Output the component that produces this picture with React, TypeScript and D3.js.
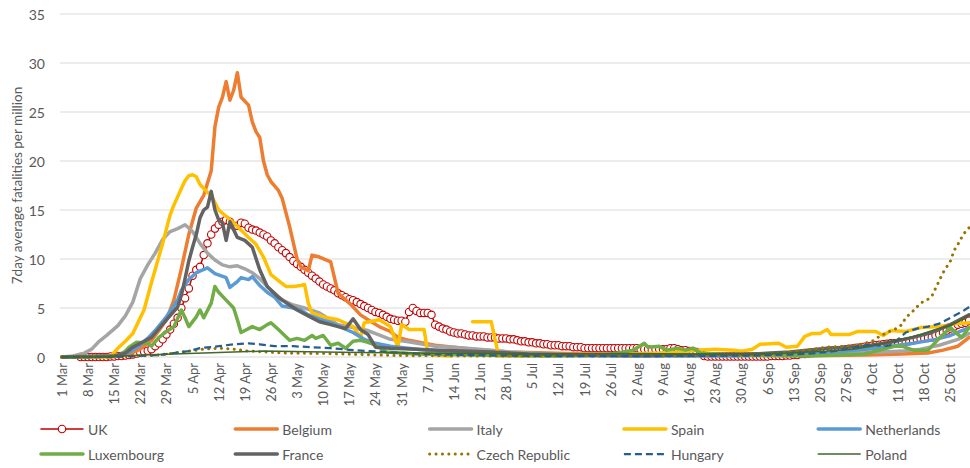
import { useMemo } from 'react'
import * as d3 from 'd3'

// 7-day average fatalities per million, by country, 1 Mar - 30 Oct 2020.
// Points are [days since 1 Mar, value]; null marks a gap in the series.
type Pt = [number, number | null]

const START = Date.UTC(2020, 2, 1)
const LAST_DAY = 243

// UK is daily (it carries a marker on every day), starting 5 Mar
const ukFirstDay = 5
const ukDaily = [
  0, 0, 0, 0, 0, 0, 0, 0, 0.05, 0.05,
  0.1, 0.1, 0.15, 0.2, 0.25, 0.35, 0.45, 0.55, 0.65, 0.8,
  1.1, 1.4, 1.8, 2.3, 2.8, 3.4, 4.0, 5.0, 6.0, 7.0,
  8.3, 8.9, 9.2, 10.4, 11.6, 12.5, 13.1, 13.5, 13.8, 14.0,
  13.8, 13.4, 13.4, 13.7, 13.6, 13.2, 13.0, 12.9, 12.7, 12.5,
  12.3, 11.9, 11.6, 11.2, 10.9, 10.6, 10.2, 9.8, 9.5, 9.2,
  8.9, 8.6, 8.3, 8.0, 7.7, 7.4, 7.2, 7.0, 6.8, 6.5,
  6.3, 6.1, 5.9, 5.8, 5.6, 5.4, 5.2, 5.0, 4.8, 4.6,
  4.5, 4.3, 4.1, 3.9, 3.8, 3.7, 3.7, 3.6, 4.6, 5.0,
  4.7, 4.5, 4.5, 4.5, 4.3, 3.3, 3.1, 2.9, 2.8, 2.6,
  2.5, 2.4, 2.4, 2.3, 2.2, 2.2, 2.1, 2.1, 2.1, 2.0,
  2.0, 2.0, 1.9, 1.9, 1.9, 1.8, 1.8, 1.7, 1.6, 1.6,
  1.5, 1.5, 1.4, 1.4, 1.3, 1.3, 1.2, 1.2, 1.2, 1.1,
  1.1, 1.1, 1.0, 1.0, 1.0, 0.9, 0.9, 0.9, 0.9, 0.9,
  0.9, 0.9, 0.9, 0.9, 0.9, 0.9, 0.9, 0.9, 0.9, 0.9,
  0.8, 0.8, 0.8, 0.7, 0.8, 0.8, 0.8, 0.8, 0.9, 0.9,
  0.8, 0.7, 0.7, 0.6, 0.6, 0.5, 0.4, 0.1, 0.05, 0.05,
  0.05, 0.05, 0.05, 0.05, 0.05, 0.05, 0.05, 0.05, 0.05, 0.05,
  0.05, 0.05, 0.05, 0.05, 0.05, 0.1, 0.1, 0.1, 0.1, 0.15,
  0.15, 0.2, 0.2, 0.3, 0.3, 0.35, 0.4, 0.45, 0.5, 0.55,
  0.6, 0.65, 0.7, 0.7, 0.75, 0.8, 0.85, 0.9, 0.95, 1.0,
  1.05, 1.1, 1.15, 1.2, 1.25, 1.3, 1.35, 1.4, 1.4, 1.45,
  1.5, 1.55, 1.6, 1.7, 1.8, 1.85, 1.9, 1.95, 2.0, 2.2,
  2.3, 2.5, 2.7, 2.9, 3.1, 3.3, 3.4, 3.5, 3.7,
]

const belgium: Pt[] = [
  [0, 0], [14, 0.05], [18, 0.3], [21, 0.8], [24, 1.7], [26, 2.7], [28, 3.8], [30, 5.8],
  [32, 9], [34, 12.5], [36, 15.2], [38, 16.5], [40, 19], [41, 23.5], [42, 25.5], [43, 26.5],
  [44, 28.1], [45, 26.2], [46, 27.2], [47, 29], [48, 26.5], [50, 25.7], [51, 24], [52, 23],
  [53, 22.4], [54, 20], [55, 18.6], [56, 17.9], [58, 17], [59, 16.2], [61, 13.3], [63, 10],
  [64, 9.2], [66, 8.8], [67, 10.4], [69, 10.2], [72, 9.7], [74, 6.5], [77, 5.5], [80, 4.3],
  [82, 3.8], [85, 3.1], [88, 2.6], [90, 2.0], [93, 1.7], [97, 1.4], [100, 1.2], [105, 1.0],
  [110, 0.8], [120, 0.5], [130, 0.4], [140, 0.3], [160, 0.3], [175, 0.2], [190, 0.15],
  [205, 0.15], [215, 0.2], [225, 0.3], [232, 0.4], [236, 0.7], [240, 1.1], [243, 2.0],
]

const italy: Pt[] = [
  [0, 0], [3, 0.1], [6, 0.4], [8, 0.8], [10, 1.6], [12, 2.2], [15, 3.2], [17, 4.2], [19, 5.6],
  [21, 8], [23, 9.4], [25, 10.6], [27, 12], [29, 12.8], [31, 13.1], [33, 13.5], [35, 12.8],
  [37, 11.6], [39, 10.6], [41, 9.9], [43, 9.4], [45, 9.2], [47, 9.3], [49, 9], [51, 8.6],
  [53, 8], [55, 7.2], [57, 6.5], [59, 5.8], [62, 5.3], [65, 5], [69, 4.5], [74, 3.3], [78, 3.0],
  [82, 2.7], [88, 1.8], [92, 1.6], [100, 1.1], [105, 1.0], [115, 0.7], [120, 0.5], [130, 0.3],
  [140, 0.2], [150, 0.2], [170, 0.15], [190, 0.2], [200, 0.3], [210, 0.4], [220, 0.5],
  [225, 0.6], [230, 0.8], [235, 1.2], [240, 1.8], [243, 2.4],
]

const spain: Pt[] = [
  [0, 0], [13, 0], [15, 0.9], [17, 1.6], [19, 2.4], [22, 4.8], [24, 7.6], [27, 11.6], [29, 14.5],
  [30, 15.5], [32, 17.2], [33, 18], [34, 18.5], [35, 18.6], [36, 18.4], [37, 17.6], [39, 16.8],
  [40, 16.5], [42, 15], [46, 13.7], [50, 12.2], [52, 11.5], [54, 10.2], [56, 8.4], [58, 7.8],
  [60, 7.2], [62, 7.2], [64, 7.3], [65, 7.4], [66, 5.5], [67, 4.5], [71, 4.0], [74, 3.8],
  [78, 3.1], [80, 2.0], [81, 3.5], [85, 3.8], [88, 3.1], [90, 1.0], [91, 3.3], [93, 2.8],
  [97, 2.8], [98, 0.5], [100, 0.2], [104, 0.1], [105, null], [110, 3.6], [115, 3.6], [117, 0.1],
  [125, 0.1], [140, 0.2], [150, 0.3], [160, 0.4], [165, 0.5], [170, 0.7], [175, 0.8], [180, 0.7],
  [182, 0.6], [185, 0.8], [187, 1.3], [192, 1.4], [194, 1.0], [197, 1.1], [199, 2.1], [201, 2.4],
  [203, 2.4], [205, 2.8], [206, 2.3], [211, 2.3], [213, 2.6], [218, 2.6], [220, 2.2], [222, 2.7],
  [226, 2.6], [230, 3.0], [235, 3.1], [239, 3.4], [243, 3.5],
]

const netherlands: Pt[] = [
  [0, 0], [14, 0.1], [17, 0.3], [19, 0.7], [21, 1.2], [23, 1.9], [25, 2.7], [28, 4.1], [31, 5.8],
  [32, 6.8], [34, 7.9], [36, 8.6], [39, 9.1], [41, 8.5], [44, 8.1], [45, 7.1], [47, 7.7], [48, 8.1],
  [50, 7.9], [51, 8.2], [53, 7.3], [55, 6.6], [57, 6.1], [59, 5.2], [62, 5.0], [64, 4.8], [66, 4.3],
  [69, 3.9], [72, 3.5], [75, 3.0], [78, 2.5], [81, 1.8], [84, 1.4], [88, 1.1], [95, 0.8], [100, 0.6],
  [110, 0.4], [125, 0.2], [150, 0.1], [180, 0.1], [200, 0.3], [210, 0.6], [220, 1.0], [228, 1.4],
  [234, 1.8], [238, 2.2], [243, 3.0],
]

const luxembourg: Pt[] = [
  [0, 0], [15, 0.1], [17, 0.6], [18, 1.0], [20, 1.5], [23, 1.4], [24, 1.1], [26, 2.0], [28, 2.6],
  [30, 3.1], [32, 4.8], [33, 4.0], [34, 3.1], [36, 4.1], [37, 4.8], [38, 4.0], [40, 5.5], [41, 7.2],
  [42, 6.6], [44, 5.8], [46, 5.0], [47, 3.8], [48, 2.5], [51, 3.1], [53, 2.8], [55, 3.3], [56, 3.5],
  [58, 2.8], [61, 1.7], [63, 1.9], [65, 1.7], [67, 2.2], [68, 1.9], [70, 2.2], [72, 1.2], [74, 1.4],
  [76, 0.9], [78, 1.6], [80, 1.7], [82, 1.5], [84, 1.2], [87, 0.5], [95, 0.3], [110, 0.2],
  [130, 0.1], [145, 0.2], [149, 0.4], [153, 0.7], [156, 1.4], [157, 1.0], [160, 1.1], [162, 0.7],
  [165, 0.9], [167, 0.7], [169, 0.9], [171, 0.4], [180, 0.2], [200, 0.1], [215, 0.3], [219, 0.7],
  [223, 1.1], [225, 1.1], [228, 0.7], [232, 0.7], [235, 1.9], [238, 3.0], [240, 2.3], [241, 2.0],
  [243, 3.0],
]

const france: Pt[] = [
  [0, 0], [14, 0.1], [17, 0.4], [19, 1.0], [21, 1.4], [24, 2.0], [28, 3.8], [31, 5.1], [32, 6.3],
  [33, 8.0], [34, 9.8], [35, 11.2], [36, 12.5], [37, 14.2], [38, 15], [39, 15.3], [40, 16.9],
  [41, 15], [42, 14], [43, 13.7], [44, 11.9], [45, 13.8], [47, 12.2], [49, 11.9], [51, 11.2],
  [53, 8.9], [55, 7.2], [58, 6.1], [61, 5.3], [63, 4.8], [66, 4.2], [69, 3.6], [72, 3.3], [76, 2.9],
  [78, 3.9], [80, 2.8], [82, 2.3], [84, 1.0], [88, 0.9], [95, 0.8], [101, 0.7], [115, 0.5],
  [125, 0.3], [140, 0.2], [155, 0.15], [170, 0.2], [185, 0.3], [195, 0.5], [205, 0.9], [215, 1.1],
  [222, 1.5], [228, 2.0], [233, 2.5], [238, 3.3], [243, 4.3],
]

const czech: Pt[] = [
  [0, 0], [20, 0.1], [26, 0.2], [30, 0.4], [34, 0.6], [38, 0.8], [42, 0.9], [46, 0.8], [50, 0.6],
  [55, 0.5], [60, 0.4], [70, 0.35], [80, 0.25], [90, 0.15], [110, 0.1], [140, 0.1], [170, 0.1],
  [185, 0.2], [192, 0.4], [197, 0.6], [201, 0.8], [205, 1.0], [210, 1.1], [214, 1.3], [217, 1.6],
  [219, 2.1], [221, 2.5], [223, 2.8], [225, 3.3], [226, 4.0], [228, 4.7], [230, 5.5], [232, 5.9],
  [233, 6.2], [234, 7.0], [236, 8.6], [237, 9.2], [238, 9.8], [239, 10.9], [240, 11.5],
  [241, 12.2], [242, 12.8], [243, 13.2],
]

const hungary: Pt[] = [
  [0, 0], [14, 0], [20, 0.1], [26, 0.2], [30, 0.4], [34, 0.6], [37, 0.9], [42, 1.1], [46, 1.3],
  [50, 1.4], [53, 1.3], [57, 1.1], [62, 1.1], [67, 1.0], [72, 0.9], [78, 0.7], [87, 0.5], [95, 0.35],
  [110, 0.2], [130, 0.1], [160, 0.1], [185, 0.15], [195, 0.25], [200, 0.35], [205, 0.5], [210, 0.8],
  [214, 1.1], [217, 1.3], [220, 1.1], [222, 1.2], [224, 1.8], [226, 2.5], [229, 2.9], [232, 3.1],
  [235, 3.4], [238, 4.0], [241, 4.6], [243, 5.1],
]

const poland: Pt[] = [
  [0, 0], [10, 0], [16, 0.1], [22, 0.2], [30, 0.3], [38, 0.4], [46, 0.5], [54, 0.6], [62, 0.55],
  [70, 0.5], [80, 0.45], [95, 0.4], [110, 0.35], [130, 0.3], [150, 0.35], [170, 0.3], [185, 0.3],
  [195, 0.4], [205, 0.6], [212, 0.8], [218, 1.2], [222, 1.6], [226, 1.9], [230, 2.3], [234, 2.8],
  [237, 3.1], [240, 3.6], [243, 4.3],
]

const uk: Pt[] = ukDaily.map((v, i) => [ukFirstDay + i, v])

type Series = {
  name: string
  data: Pt[]
  color: string
  width: number
  dash?: string
  cap?: 'round' | 'butt'
  marker?: boolean
}

const series: Series[] = [
  { name: 'UK', data: uk, color: '#C00000', width: 1.5, marker: true },
  { name: 'Belgium', data: belgium, color: '#ED7D31', width: 3.5 },
  { name: 'Italy', data: italy, color: '#A5A5A5', width: 3.5 },
  { name: 'Spain', data: spain, color: '#FFC000', width: 3.5 },
  { name: 'Netherlands', data: netherlands, color: '#5B9BD5', width: 3.5 },
  { name: 'Luxembourg', data: luxembourg, color: '#70AD47', width: 3.5 },
  { name: 'France', data: france, color: '#636363', width: 3.5 },
  { name: 'Czech Republic', data: czech, color: '#997300', width: 3, dash: '0.1 6.3', cap: 'round' },
  { name: 'Hungary', data: hungary, color: '#255E91', width: 2.25, dash: '7 4', cap: 'butt' },
  { name: 'Poland', data: poland, color: '#43682B', width: 1.5 },
]

const W = 970
const H = 468
const PLOT = { left: 60, right: 971, top: 14, bottom: 357 }
const FONT = 'Lato, "Liberation Sans", sans-serif'
const TEXT = '#595959'

const dayDate = (d: number) => new Date(START + d * 864e5)

export default function App() {
  const { x, y, ticks } = useMemo(() => {
    const x = d3
      .scaleUtc()
      .domain([dayDate(-0.5), dayDate(LAST_DAY + 0.5)])
      .range([PLOT.left, PLOT.right])
    const y = d3.scaleLinear().domain([0, 35]).range([PLOT.bottom, PLOT.top])
    const ticks = d3.utcSunday.range(dayDate(0), dayDate(LAST_DAY + 1))
    return { x, y, ticks }
  }, [])

  const line = d3
    .line<Pt>()
    .defined((d: Pt) => d[1] != null)
    .x((d: Pt) => x(dayDate(d[0])))
    .y((d: Pt) => y(d[1] as number))

  const fmt = d3.utcFormat('%-d %b')

  return (
    <div style={{ position: 'fixed', left: 0, top: 0 }}>
      <svg width={W} height={H} style={{ display: 'block', background: '#fff', fontFamily: FONT }}>
        {/* horizontal gridlines */}
        {y.ticks(7).map((t: number) => (
          <g key={t}>
            <line x1={PLOT.left} x2={PLOT.right} y1={y(t)} y2={y(t)} stroke="#D9D9D9" strokeWidth={1} />
            <text x={45} y={y(t)} textAnchor="end" dominantBaseline="central" fontSize={14} fill={TEXT}>
              {t}
            </text>
          </g>
        ))}

        <text
          transform={`translate(17,${(PLOT.top + PLOT.bottom) / 2}) rotate(-90)`}
          textAnchor="middle"
          dominantBaseline="central"
          fontSize={13.5}
          fill={TEXT}
        >
          7day average fatalities per million
        </text>

        {/* date labels, one per week */}
        {ticks.map((t: Date) => (
          <text
            key={+t}
            transform={`translate(${x(t)},${PLOT.bottom + 6}) rotate(-90)`}
            textAnchor="end"
            dominantBaseline="central"
            fontSize={13}
            fill={TEXT}
          >
            {fmt(t)}
          </text>
        ))}

        {series.map((s: Series) => (
          <g key={s.name}>
            <path
              d={line(s.data) || ''}
              fill="none"
              stroke={s.color}
              strokeWidth={s.width}
              strokeDasharray={s.dash}
              strokeLinecap={s.cap ?? 'round'}
              strokeLinejoin="round"
            />
            {s.marker &&
              s.data.map((d: Pt) => (
                <circle
                  key={d[0]}
                  cx={x(dayDate(d[0]))}
                  cy={y(d[1] as number)}
                  r={3.7}
                  fill="#fff"
                  stroke={s.color}
                  strokeWidth={1.1}
                />
              ))}
          </g>
        ))}

        {/* legend: 2 rows x 5 columns */}
        {series.map((s: Series, i: number) => {
          const lx = 41 + (i % 5) * 194.3
          const ly = 429 + Math.floor(i / 5) * 25
          return (
            <g key={`lg-${s.name}`} transform={`translate(${lx},${ly})`}>
              <line
                x1={0}
                x2={42}
                y1={0}
                y2={0}
                stroke={s.color}
                strokeWidth={s.marker ? 1.5 : s.width}
                strokeDasharray={s.dash}
                strokeLinecap={s.cap ?? 'round'}
              />
              {s.marker && <circle cx={21} cy={0} r={3.7} fill="#fff" stroke={s.color} strokeWidth={1.1} />}
              <text x={47} y={0} dominantBaseline="central" fontSize={14} fill={TEXT}>
                {s.name}
              </text>
            </g>
          )
        })}
      </svg>
    </div>
  )
}
